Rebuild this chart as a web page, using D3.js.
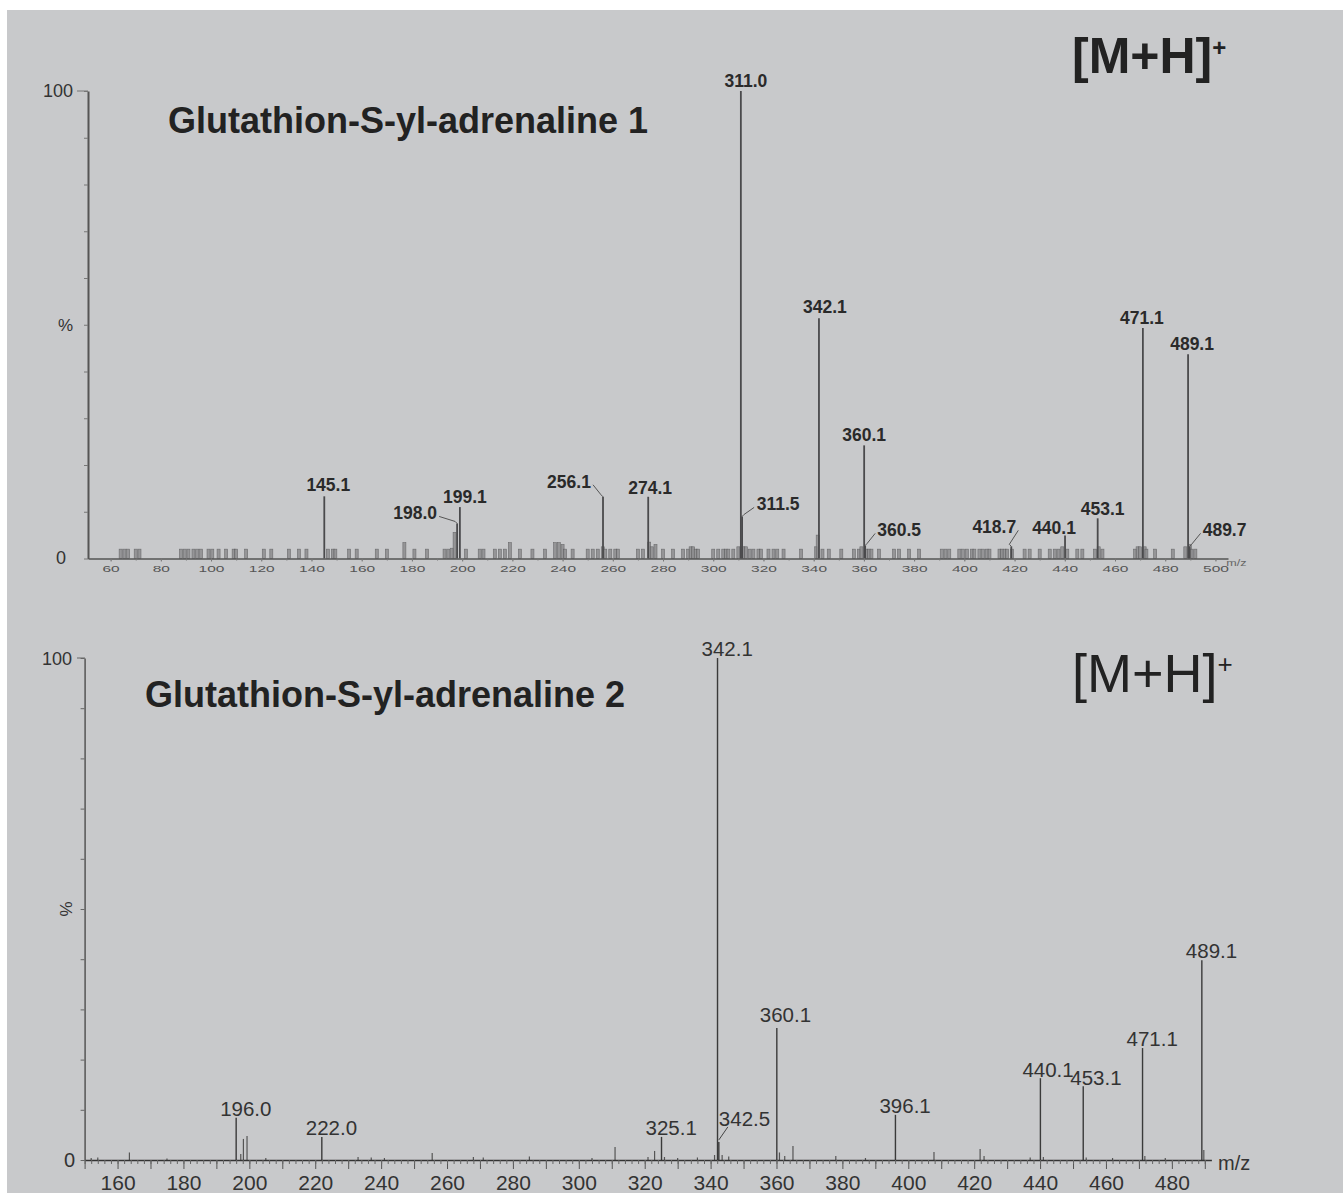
<!DOCTYPE html>
<html>
<head>
<meta charset="utf-8">
<script src="https://cdn.jsdelivr.net/npm/d3@7"></script>
<style>
  body { margin: 0; background: #fff; }
  svg text { font-family: "Liberation Sans", Arial, sans-serif; }
</style>
</head>
<body>
<div class="chart"></div>
<script>
// ---- data (m/z, relative intensity %) ----
var topPeaks = [[145.1, 13.3], [198.0, 7.5], [199.1, 11.0], [256.1, 13.2], [274.1, 13.2], [311.0, 100],
    [311.5, 9.0], [342.1, 51.4], [360.1, 24.2], [360.5, 2.8], [418.7, 2.6], [440.1, 4.9],
    [453.1, 8.6], [471.1, 49.3], [489.1, 43.7], [489.7, 2.6]];

// small unlabelled peaks in spectrum 1 (the grey "grass" along the baseline)
var topNoise = [[64, 2], [65.5, 2], [67, 2], [70, 2], [71.5, 2], [88, 2], [89.5, 2], [91, 2], [93, 2], [94.5, 2],
    [96, 2], [99, 2], [100.5, 2], [103, 2], [106, 2], [109, 2], [110, 2], [114, 2], [121, 2], [124, 2],
    [131, 2], [135, 2], [138, 2], [146.5, 2], [148.5, 2], [149.5, 2], [155, 2], [158, 2], [166, 2], [170, 2],
    [177, 3.4], [181, 2], [186, 2], [193, 2], [194.5, 2], [196, 2.2], [197, 5.6], [201.5, 2], [207, 2],
    [208.5, 2], [213, 2], [215, 2], [217, 2], [219, 3.4], [223, 2], [228, 2], [233, 2], [237, 3.4],
    [238.5, 3.4], [240, 3], [241, 2], [244, 2], [250, 2], [252, 2], [254, 2], [256, 2.5], [257, 2], [259, 2],
    [261, 2], [262, 2], [270, 2], [272, 2], [274.5, 3.5], [275.5, 2.5], [277, 3], [280, 2], [284, 2],
    [288, 2], [290, 2], [291, 2.5], [292, 2.5], [293, 2], [294, 2], [300, 2], [302, 2], [304, 2], [305, 2],
    [306, 2], [308, 2], [310, 2.5], [311.3, 2.5], [312, 2.5], [313, 2.5], [314.5, 2], [316, 2], [318, 2],
    [319, 2], [322, 2], [324, 2], [325.5, 2], [328, 2], [335, 2], [341, 2.5], [341.6, 5], [343.5, 2],
    [346, 2], [351, 2], [356, 2], [358, 2], [359, 2.5], [361, 2], [362, 2], [363, 2], [366, 2], [372, 2],
    [374, 2], [378, 2], [382, 2], [391, 2], [392.5, 2], [394, 2], [398, 2], [399.5, 2], [401, 2], [403, 2],
    [404, 2], [406, 2], [407.5, 2], [409, 2], [410, 2], [414, 2], [415, 2], [416, 2], [417, 2], [419, 2],
    [424, 2], [426, 2], [430, 2], [434, 2], [436, 2], [437.5, 2], [439, 2.5], [441, 2], [445, 2], [447, 2],
    [452, 2], [453.5, 2.5], [455, 2], [468, 2], [469, 2.5], [470, 2.5], [471.8, 2.5], [472.5, 2], [476, 2],
    [483, 2], [488, 2.5], [489.8, 3], [490.5, 2], [492, 2]];

var botPeaks = [[196.0, 8.4], [222.0, 4.6], [325.1, 4.6], [342.1, 100], [342.5, 3.6], [360.1, 26.3],
    [396.1, 9.0], [440.1, 16.3], [453.1, 14.7], [471.1, 22.3], [489.1, 39.8]];

var botNoise = [[152, 0.4], [154, 0.5], [163.6, 1.5], [175, 0.3], [197.4, 1.2], [198.2, 4.2], [199.3, 4.8],
    [205, 0.4], [233, 0.6], [237, 0.5], [241, 0.4], [255.5, 1.4], [268, 0.6], [271, 0.5], [285, 0.7],
    [304, 0.4], [311, 2.6], [321, 0.6], [323, 1.8], [326, 0.6], [330, 0.4], [336, 0.5], [341.2, 1.0],
    [343.5, 1.0], [345.5, 0.7], [360.9, 1.5], [362.5, 0.8], [365, 2.8], [378, 0.8], [387, 0.4],
    [407.8, 1.6], [421.8, 2.2], [423, 0.8], [437, 0.5], [441, 0.6], [454, 0.5], [462, 0.4],
    [471.8, 0.8], [478, 0.4], [489.7, 2.0]];

var topTicks = d3.range(60, 501, 20);
var botTicks = d3.range(160, 481, 20);
var titles = ['Glutathion-S-yl-adrenaline 1', 'Glutathion-S-yl-adrenaline 2'];

// label placement, relative to the top of each peak: [dx, dy, leader line?]
var topNudge = {
    '145.1': [4, -5], '198.0': [-42, -4, true], '199.1': [5, -4], '256.1': [-34, -9, true],
    '274.1': [2, -3], '311.0': [5, -4], '311.5': [36, -6, true], '342.1': [6, -5], '360.1': [0, -4],
    '360.5': [34, -9, true], '418.7': [-17, -13, true], '440.1': [-11, -2], '453.1': [5, -3],
    '471.1': [-1, -4], '489.1': [4, -4], '489.7': [35, -10, true]
};
var botNudge = { '342.5': [0, -16, true], '360.1': [-17, -6], '440.1': [-18, -1], '453.1': [-13, -1] };

var W = 1343, H = 1193;
var svg = d3.select('.chart').append('svg').attr('width', W).attr('height', H);
svg.append('rect').attr('x', 7).attr('y', 10).attr('width', W - 7).attr('height', H - 10).attr('fill', '#c8c9cb');

// ================= panel 1 =================
var xTop = d3.scaleLinear().domain([51, 505]).range([88, 1228]);
var yTop = d3.scaleLinear().domain([0, 100]).range([558.5, 91]);

var g1 = svg.append('g');

g1.selectAll('.noise').data(topNoise).enter().append('rect')
    .attr('x', function(d) { return xTop(d[0]) - 1.5; })
    .attr('y', function(d) { return yTop(d[1]); })
    .attr('width', 3)
    .attr('height', function(d) { return yTop(0) - yTop(d[1]); })
    .attr('fill', '#8d8d8f').attr('stroke', '#5a5a5c').attr('stroke-width', 0.6).attr('opacity', 0.85);

g1.selectAll('.peak').data(topPeaks).enter().append('line')
    .attr('x1', function(d) { return xTop(d[0]); })
    .attr('x2', function(d) { return xTop(d[0]); })
    .attr('y1', yTop(0))
    .attr('y2', function(d) { return yTop(d[1]); })
    .attr('stroke', '#4a4a4c').attr('stroke-width', 1.8);

// x axis
var axTop = g1.append('g').attr('transform', 'translate(0,' + yTop(0) + ')')
    .call(d3.axisBottom(xTop).tickValues(topTicks).tickSize(3).tickSizeOuter(0));
axTop.select('.domain').attr('stroke', '#555').attr('stroke-width', 1.5);
axTop.selectAll('.tick line').attr('stroke', '#777');
axTop.selectAll('.tick text')
    .attr('y', 8).attr('dy', '0.71em')
    .attr('transform', 'scale(1.55,0.9)')
    .attr('fill', '#555').attr('font-size', 10);
g1.append('g').attr('transform', 'translate(0,' + yTop(0) + ')')
    .call(d3.axisBottom(xTop).tickValues(d3.range(60, 501, 10)).tickSize(2).tickFormat(''))
    .call(function(s) { s.select('.domain').remove(); s.selectAll('line').attr('stroke', '#777'); });
g1.append('text').attr('x', 1236).attr('y', 566).attr('text-anchor', 'middle')
    .attr('font-size', 9).attr('fill', '#666').attr('transform', 'translate(-494,0) scale(1.4,1)')
    .text('m/z');

// y axis
var ayTop = g1.append('g').attr('transform', 'translate(' + xTop(51) + ',0)')
    .call(d3.axisLeft(yTop).tickValues(d3.range(0, 101, 10)).tickSize(4).tickFormat('').tickSizeOuter(0));
ayTop.select('.domain').attr('stroke', '#555').attr('stroke-width', 2);
ayTop.selectAll('.tick line').attr('stroke', '#777');
g1.append('line').attr('x1', 77).attr('x2', 88).attr('y1', yTop(100)).attr('y2', yTop(100)).attr('stroke', '#777');
g1.append('text').attr('x', 73).attr('y', yTop(100) + 6).attr('text-anchor', 'end').attr('font-size', 18).attr('fill', '#333').text('100');
g1.append('text').attr('x', 73).attr('y', yTop(50) + 6).attr('text-anchor', 'end').attr('font-size', 17).attr('fill', '#333').text('%');
g1.append('text').attr('x', 66).attr('y', yTop(0) + 5).attr('text-anchor', 'end').attr('font-size', 18).attr('fill', '#333').text('0');

// peak labels
topPeaks.forEach(function(d) {
    var key = d[0].toFixed(1);
    var n = topNudge[key] || [0, -4];
    var px = xTop(d[0]), py = yTop(d[1]);
    g1.append('text').attr('x', px + n[0]).attr('y', py + n[1])
        .attr('text-anchor', 'middle').attr('font-size', 17.5).attr('font-weight', 'bold')
        .attr('fill', '#2a2a2a').text(key);
    if (n[2]) {
        var lx = n[0] < 0 ? px + n[0] + 24 : px + n[0] - 24;
        var ly = py + n[1] - 3;
        g1.append('path').attr('d', 'M' + lx + ',' + ly + 'L' + (px + (n[0] < 0 ? -2 : 2)) + ',' + (py - 2) + 'L' + px + ',' + py)
            .attr('fill', 'none').attr('stroke', '#555').attr('stroke-width', 1);
    }
});

g1.append('text').attr('x', 168).attr('y', 133).attr('font-size', 36).attr('font-weight', 'bold')
    .attr('fill', '#222').text(titles[0]);
var mh1 = g1.append('text').attr('x', 1072).attr('y', 73).attr('font-size', 50).attr('font-weight', 'bold').attr('fill', '#222');
mh1.append('tspan').text('[M+H]');
mh1.append('tspan').attr('font-size', 24).attr('dy', -17).text('+');

// ================= panel 2 =================
var xBot = d3.scaleLinear().domain([150, 492]).range([84.6, 1211.4]);
var yBot = d3.scaleLinear().domain([0, 100]).range([1160, 658]);

var g2 = svg.append('g');

g2.selectAll('.noise').data(botNoise).enter().append('line')
    .attr('x1', function(d) { return xBot(d[0]); })
    .attr('x2', function(d) { return xBot(d[0]); })
    .attr('y1', yBot(0))
    .attr('y2', function(d) { return yBot(d[1]); })
    .attr('stroke', '#555').attr('stroke-width', 1.2);

g2.selectAll('.peak').data(botPeaks).enter().append('line')
    .attr('x1', function(d) { return xBot(d[0]); })
    .attr('x2', function(d) { return xBot(d[0]); })
    .attr('y1', yBot(0))
    .attr('y2', function(d) { return yBot(d[1]); })
    .attr('stroke', '#3a3a3a').attr('stroke-width', 1.4);

var axBot = g2.append('g').attr('transform', 'translate(0,' + yBot(0) + ')')
    .call(d3.axisBottom(xBot).tickValues(d3.range(150, 491, 10)).tickSize(9).tickSizeOuter(0).tickFormat(''));
axBot.select('.domain').attr('stroke', '#333').attr('stroke-width', 1.5);
axBot.selectAll('.tick line').attr('stroke', '#555');
g2.append('g').attr('transform', 'translate(0,' + yBot(0) + ')')
    .call(d3.axisBottom(xBot).tickValues(d3.range(150, 491, 2)).tickSize(4).tickFormat(''))
    .call(function(s) { s.select('.domain').remove(); s.selectAll('line').attr('stroke', '#666'); });
g2.append('g').attr('transform', 'translate(0,' + yBot(0) + ')')
    .call(d3.axisBottom(xBot).tickValues(botTicks).tickSize(0))
    .call(function(s) {
        s.select('.domain').remove();
        s.selectAll('text').attr('y', 15).attr('dy', '0.71em').attr('font-size', 21).attr('fill', '#333');
    });
g2.append('text').attr('x', 1218).attr('y', 1170).attr('font-size', 20).attr('fill', '#333').text('m/z');

var ayBot = g2.append('g').attr('transform', 'translate(' + xBot(150) + ',0)')
    .call(d3.axisLeft(yBot).tickValues(d3.range(0, 101, 10)).tickSize(4).tickFormat('').tickSizeOuter(0));
ayBot.select('.domain').attr('stroke', '#555').attr('stroke-width', 1.5);
ayBot.selectAll('.tick line').attr('stroke', '#666');
g2.append('line').attr('x1', 77).attr('x2', 85).attr('y1', yBot(100)).attr('y2', yBot(100)).attr('stroke', '#666');
g2.append('text').attr('x', 72).attr('y', yBot(100) + 7).attr('text-anchor', 'end').attr('font-size', 18).attr('fill', '#333').text('100');
g2.append('text').attr('transform', 'translate(72,' + yBot(50) + ') rotate(-90)').attr('text-anchor', 'middle')
    .attr('font-size', 17).attr('fill', '#333').text('%');
g2.append('text').attr('x', 75).attr('y', yBot(0) + 7).attr('text-anchor', 'end').attr('font-size', 20).attr('fill', '#333').text('0');

botPeaks.forEach(function(d) {
    var key = d[0].toFixed(1);
    var n = botNudge[key] || [-16, -2];
    var px = xBot(d[0]), py = yBot(d[1]);
    g2.append('text').attr('x', px + n[0]).attr('y', py + n[1])
        .attr('font-size', 20.5).attr('fill', '#333').text(key);
    if (n[2]) {
        g2.append('line').attr('x1', px + 9).attr('y1', py + n[1] + 1).attr('x2', px).attr('y2', py - 2)
            .attr('stroke', '#444').attr('stroke-width', 1);
    }
});

g2.append('text').attr('x', 145).attr('y', 707).attr('font-size', 36).attr('font-weight', 'bold')
    .attr('fill', '#222').text(titles[1]);
var mh2 = g2.append('text').attr('x', 1072).attr('y', 692).attr('font-size', 54).attr('fill', '#222');
mh2.append('tspan').text('[M+H]');
mh2.append('tspan').attr('font-size', 26).attr('dy', -19).text('+');
</script>
</body>
</html>
